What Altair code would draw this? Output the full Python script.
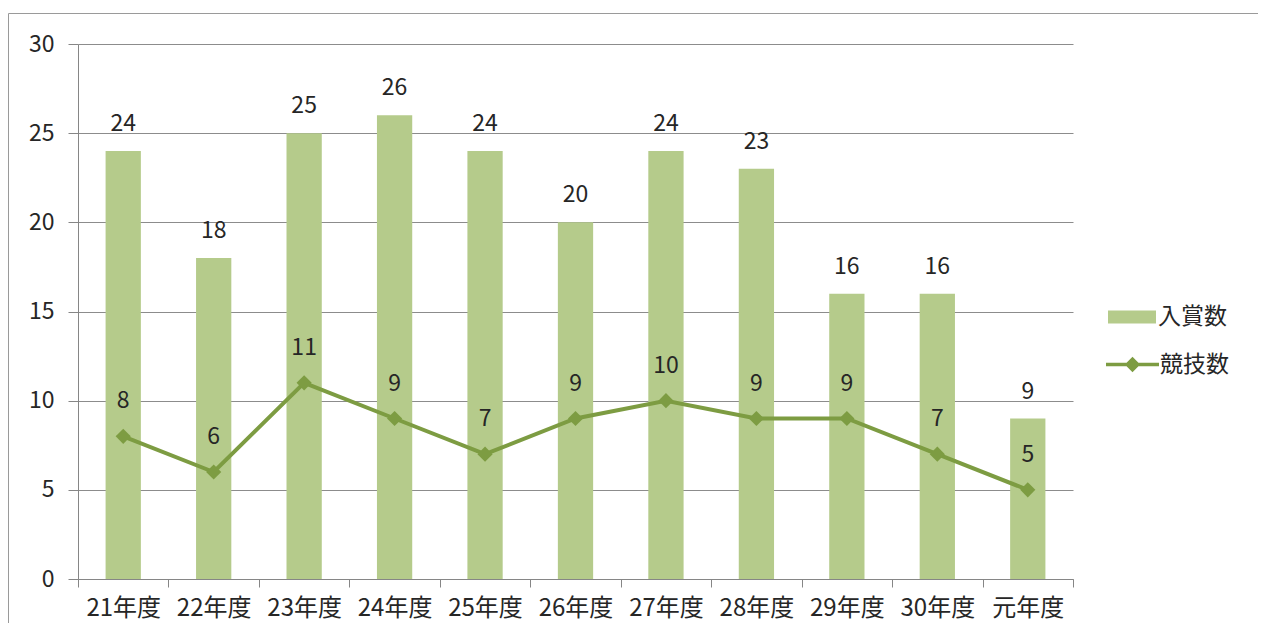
import altair as alt
import pandas as pd

categories = ["21年度", "22年度", "23年度", "24年度", "25年度", "26年度",
              "27年度", "28年度", "29年度", "30年度", "元年度"]
prizes = [24, 18, 25, 26, 24, 20, 24, 23, 16, 16, 9]      # 入賞数
events = [8, 6, 11, 9, 7, 9, 10, 9, 9, 7, 5]             # 競技数

BAR = "#b5cb8b"
LINE = "#7d9c42"
FONT = "Noto Sans CJK JP"
TXT = "#262626"

df = pd.DataFrame({"cat": categories, "prize": prizes, "event": events,
                   "s1": "入賞数", "s2": "競技数"})

base = alt.Chart(df)
xenc = alt.X("cat:N", sort=categories, title=None,
             scale=alt.Scale(paddingInner=0, paddingOuter=0),
             axis=alt.Axis(tickBand="extent", labelAngle=0, labelFontSize=24,
                           labelFont=FONT, labelColor=TXT, tickSize=8,
                           tickColor="#868686", domainColor="#868686",
                           labelPadding=9, grid=False))
yscale = alt.Scale(domain=[0, 30])
yaxis = alt.Axis(values=[0, 5, 10, 15, 20, 25, 30], labelFontSize=23,
                 labelFont=FONT, labelColor=TXT, tickSize=10,
                 tickColor="#868686", domainColor="#868686",
                 gridColor="#8c8c8c", labelPadding=14)

bar_sym = "M-1,-0.27H1V0.27H-1Z"
line_sym = "M-1,-0.07H1V0.07H-1Z M0,-0.29L0.29,0L0,0.29L-0.29,0Z"

border = alt.Chart(pd.DataFrame({"a": [0]})).mark_rect(
    fill=None, stroke="#9a9a9a", strokeWidth=1
).encode(x=alt.value(-69.5), x2=alt.value(1300), y=alt.value(-30.5), y2=alt.value(700))

bars = base.mark_bar(width=alt.RelativeBandSize(0.39)).encode(
    x=xenc,
    y=alt.Y("prize:Q", scale=yscale, axis=yaxis, title=None),
    color=alt.Color("s1:N", scale=alt.Scale(domain=["入賞数"], range=[BAR]),
                    legend=alt.Legend(title=None, orient="none", legendX=1030,
                                      legendY=249, symbolType=bar_sym,
                                      symbolSize=2304, symbolStrokeWidth=0,
                                      labelFontSize=23, labelFont=FONT,
                                      labelColor=TXT, labelOffset=2)),
)
bar_text = base.mark_text(dy=-27, fontSize=23, font=FONT, color=TXT).encode(
    x=alt.X("cat:N", sort=categories), y=alt.Y("prize:Q", scale=yscale),
    text="prize:Q")

line = base.mark_line(strokeWidth=4, color=LINE).encode(
    x=alt.X("cat:N", sort=categories), y=alt.Y("event:Q", scale=yscale))
points = base.mark_point(shape="diamond", filled=True, size=230, opacity=1).encode(
    x=alt.X("cat:N", sort=categories), y=alt.Y("event:Q", scale=yscale),
    color=alt.Color("s2:N", scale=alt.Scale(domain=["競技数"], range=[LINE]),
                    legend=alt.Legend(title=None, orient="none", legendX=1028,
                                      legendY=294, symbolType=line_sym,
                                      symbolSize=2809, symbolStrokeWidth=0,
                                      labelFontSize=23, labelFont=FONT,
                                      labelColor=TXT, labelOffset=1)),
)
line_text = base.mark_text(dy=-35, fontSize=23, font=FONT, color=TXT).encode(
    x=alt.X("cat:N", sort=categories), y=alt.Y("event:Q", scale=yscale),
    text="event:Q")

chart = alt.layer(border, bars, bar_text, line, points, line_text).resolve_scale(
    color="independent"
).properties(
    width=995, height=535,
    padding={"left": 70, "top": 36, "right": 185, "bottom": 44},
    autosize=alt.AutoSizeParams(type="none"),
    background="white",
).configure_view(stroke=None)

chart.save("out.html", embed_options={"renderer": "svg", "actions": False})
